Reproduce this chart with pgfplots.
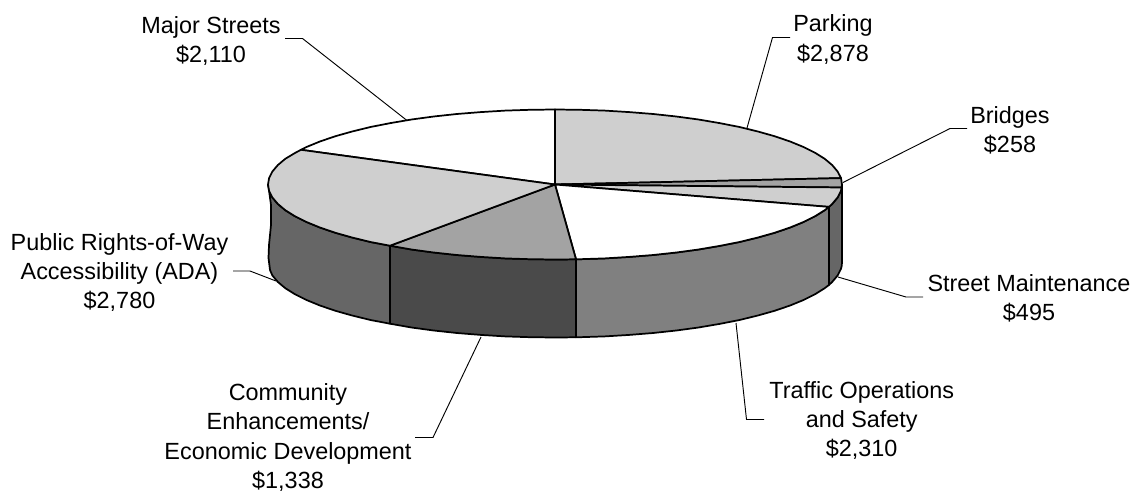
\documentclass[border=0pt]{standalone}
\usepackage{pgfplots}
\pgfplotsset{compat=1.18}
\usepackage{fontspec}
\setmainfont{Liberation Sans}
\definecolor{topLight}{gray}{0.81}
\definecolor{topMid}{gray}{0.64}
\definecolor{sideDark}{gray}{0.40}
\definecolor{sideDarker}{gray}{0.29}
\definecolor{sideMid}{gray}{0.50}
\tikzset{
  wedge/.style={draw=black,line width=1.3pt,line join=round},
  leader/.style={draw=black,line width=0.7pt},
  lab/.style={align=center,inner sep=0pt,font=\fontsize{17.55pt}{22pt}\selectfont}}
\begin{document}
\begin{tikzpicture}
\path[use as bounding box] (0,0) rectangle (852pt,369.75pt);
\begin{axis}[at={(0,0)},anchor=south west,width=852pt,height=369.75pt,scale only axis,
  xmin=0,xmax=1136,ymin=0,ymax=493,y dir=reverse,hide axis,clip=false,no markers]
% sides
\addplot[wedge,fill=sideDark] coordinates {(268,184.5)(269.1,191)(271,205)(271,225)(269,245)(268.5,258)(270,270)(272.4,275.5)(277.8,281.9)(285.3,288.2)(294.9,294.2)(306.5,300)(319.9,305.5)(335.1,310.7)(352.1,315.5)(370.5,320)(390,323.7)(390,245.7)(370.5,242)(352.1,237.5)(335.1,232.7)(319.9,227.5)(306.5,222)(294.9,216.2)(285.3,210.2)(277.8,203.9)(272.4,197.5)(269.1,191)} --cycle;
\addplot[wedge,fill=sideDarker] coordinates {(390,245.7)(411.5,249.5)(433.7,252.5)(456.8,255)(480.7,256.9)(505.2,258.4)(530,259.2)(555,259.5)(576,259.3)(576,337.3)(555,337.5)(530,337.2)(505.2,336.4)(480.7,334.9)(456.8,333)(433.7,330.5)(411.5,327.5)(390,323.7)} --cycle;
\addplot[wedge,fill=sideMid] coordinates {(576,259.3)(580,259.2)(604.8,258.4)(629.3,256.9)(653.2,255)(676.3,252.5)(698.5,249.5)(719.6,245.9)(739.5,242)(757.9,237.5)(774.9,232.7)(790.1,227.5)(803.5,222)(815.1,216.2)(824.7,210.2)(829,206.9)(829,284.9)(824.7,288.2)(815.1,294.2)(803.5,300)(790.1,305.5)(774.9,310.7)(757.9,315.5)(739.5,320)(719.6,323.9)(698.5,327.5)(676.3,330.5)(653.2,333)(629.3,334.9)(604.8,336.4)(580,337.2)(576,337.3)} --cycle;
\addplot[wedge,fill=sideDark] coordinates {(829,206.9)(832.2,203.9)(837.6,197.5)(840.9,191)(841.7,188)(842,184.5)(842,262.5)(841.7,266)(840.9,269)(837.6,275.5)(832.2,281.9)(829,284.9)} --cycle;
% tops
\addplot[wedge,fill=white] coordinates {(555,184.5)(555,109.5)(530,109.8)(505.2,110.6)(480.7,112.1)(456.8,114)(433.7,116.5)(411.5,119.5)(390.4,123.1)(370.5,127)(352.1,131.5)(335.1,136.3)(319.9,141.5)(306.5,147)(301,149.8)} --cycle;
\addplot[wedge,fill=topLight] coordinates {(555,184.5)(555,109.5)(580,109.8)(604.8,110.6)(629.3,112.1)(653.2,114)(676.3,116.5)(698.5,119.5)(719.6,123.1)(739.5,127)(757.9,131.5)(774.9,136.3)(790.1,141.5)(803.5,147)(815.1,152.8)(824.7,158.8)(832.2,165.1)(837.6,171.5)(841,178.1)} --cycle;
\addplot[wedge,fill=topMid] coordinates {(555,184.5)(841,178.1)(842,184.5)(841.7,187.5)} --cycle;
\addplot[wedge,fill=topLight] coordinates {(555,184.5)(841.7,187.5)(840.9,191)(837.6,197.5)(832.2,203.9)(829,206.9)} --cycle;
\addplot[wedge,fill=white] coordinates {(555,184.5)(829,206.9)(824.7,210.2)(815.1,216.2)(803.5,222)(790.1,227.5)(774.9,232.7)(757.9,237.5)(739.5,242)(719.6,245.9)(698.5,249.5)(676.3,252.5)(653.2,255)(629.3,256.9)(604.8,258.4)(580,259.2)(576,259.3)} --cycle;
\addplot[wedge,fill=topMid] coordinates {(555,184.5)(576,259.3)(555,259.5)(530,259.2)(505.2,258.4)(480.7,256.9)(456.8,255)(433.7,252.5)(411.5,249.5)(390,245.7)} --cycle;
\addplot[wedge,fill=topLight] coordinates {(555,184.5)(390,245.7)(370.5,242)(352.1,237.5)(335.1,232.7)(319.9,227.5)(306.5,222)(294.9,216.2)(285.3,210.2)(277.8,203.9)(272.4,197.5)(269.1,191)(268,184.5)(269.1,178)(272.4,171.5)(277.8,165.1)(285.3,158.8)(295.3,152.8)(301,149.8)} --cycle;
% leaders
\addplot[leader] coordinates {(285,38.5)(302.5,38.5)(407,120.5)};
\addplot[leader] coordinates {(790,37.5)(772.5,37.5)(747,128)};
\addplot[leader] coordinates {(967,128.5)(950,128.5)(843,182.5)};
\addplot[leader] coordinates {(923,297)(906,297)(838,277)};
\addplot[leader] coordinates {(764,419.5)(746.5,419.5)(736,323)};
\addplot[leader] coordinates {(415,437.5)(433,437.5)(481,337)};
\addplot[leader] coordinates {(233,271)(250,271)(276,281)};
% labels
\node[lab] at (axis cs:211,41) {Major Streets\\\$2,110};
\node[lab] at (axis cs:833,39.5) {Parking\\\$2,878};
\node[lab] at (axis cs:1010,130) {Bridges\\\$258};
\node[lab] at (axis cs:1029,298) {Street Maintenance\\\$495};
\node[lab] at (axis cs:861.7,420.6) {Traffic Operations\\and Safety\\\$2,310};
\node[lab] at (axis cs:288,437.5) {Community\\Enhancements/\\Economic Development\\\$1,338};
\node[lab] at (axis cs:119.5,272.5) {Public Rights-of-Way\\Accessibility (ADA)\\\$2,780};
\end{axis}
\end{tikzpicture}
\end{document}
